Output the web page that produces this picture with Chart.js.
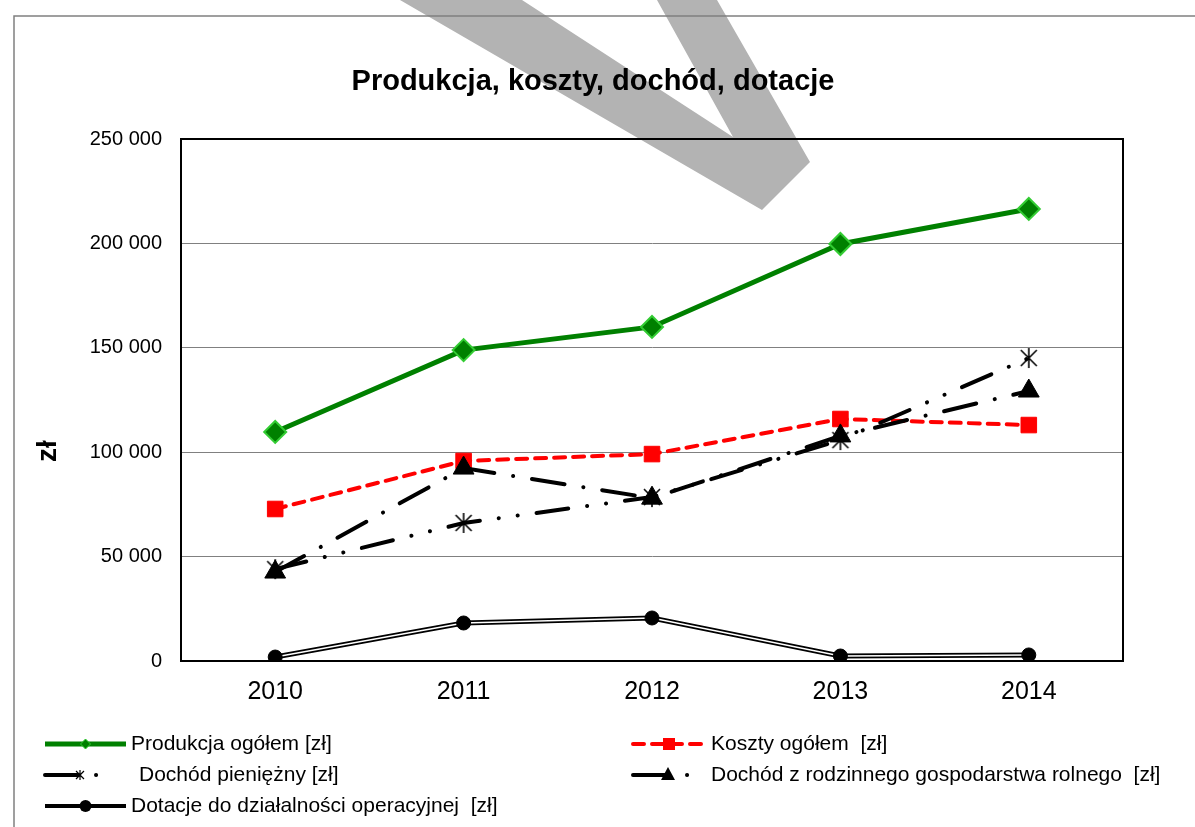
<!DOCTYPE html>
<html>
<head>
<meta charset="utf-8">
<script src="https://cdn.jsdelivr.net/npm/chart.js@4.4.0/dist/chart.umd.min.js"></script>
<style>
    html, body { margin: 0; padding: 0; background: #ffffff; }
    canvas { display: block; }
</style>
</head>
<body>
<canvas id="chart" width="1195" height="827"></canvas>
<script>
const years = ['2010', '2011', '2012', '2013', '2014'];
const produkcja = [109700, 148900, 160000, 199700, 216500];
const koszty = [72800, 95800, 99100, 115900, 113000];
const dochodPieniezny = [44000, 66100, 78500, 105800, 145100];
const dochodRodzinny = [42600, 92400, 78000, 107800, 129300];
const dotacje = [1900, 18200, 20600, 2400, 2900];
const yTicks = [0, 50000, 100000, 150000, 200000, 250000];

const chartTitle = 'Produkcja, koszty, dochód, dotacje';
const yTitle = 'zł';
const legendLabels = [
    'Produkcja ogółem [zł]',
    'Koszty ogółem  [zł]',
    'Dochód pieniężny [zł]',
    'Dochód z rodzinnego gospodarstwa rolnego  [zł]',
    'Dotacje do działalności operacyjnej  [zł]'
];

const FONT = '"Liberation Sans", Arial, sans-serif';

const formatPl = (v) => String(v).replace(/\B(?=(\d{3})+(?!\d))/g, ' ');

// asterisk marker (X + vertical bar), like the Excel "star"
const makeStar = (size, lw) => {
    const c = document.createElement('canvas');
    c.width = size; c.height = size;
    const g = c.getContext('2d');
    const m = size / 2, r = size / 2 - 1;
    g.strokeStyle = '#000';
    g.lineWidth = lw;
    g.beginPath();
    g.moveTo(m, m - r); g.lineTo(m, m + r);
    g.moveTo(m - r * 0.8, m - r * 0.8); g.lineTo(m + r * 0.8, m + r * 0.8);
    g.moveTo(m + r * 0.8, m - r * 0.8); g.lineTo(m - r * 0.8, m + r * 0.8);
    g.stroke();
    return c;
};
const starBig = makeStar(22, 1.6);
const starSmall = makeStar(12, 1.2);

// background: watermark + outer frame + titles
const backgroundPlugin = {
    id: 'background',
    beforeDraw: (chart) => {
        const ctx = chart.ctx;
        ctx.save();
        ctx.fillStyle = '#ffffff';
        ctx.fillRect(0, 0, chart.width, chart.height);

        ctx.fillStyle = '#b3b3b3';
        ctx.beginPath();
        ctx.moveTo(400, 0);
        ctx.lineTo(522, 0);
        ctx.lineTo(733, 137);
        ctx.lineTo(657, 0);
        ctx.lineTo(717, 0);
        ctx.lineTo(810, 162);
        ctx.lineTo(762, 210);
        ctx.closePath();
        ctx.fill();

        ctx.strokeStyle = '#808080';
        ctx.lineWidth = 1.5;
        ctx.beginPath();
        ctx.moveTo(14, chart.height);
        ctx.lineTo(14, 16);
        ctx.lineTo(chart.width, 16);
        ctx.stroke();

        ctx.fillStyle = '#000000';
        ctx.font = 'bold 29px ' + FONT;
        ctx.textAlign = 'center';
        ctx.textBaseline = 'middle';
        ctx.fillText(chartTitle, 593, 82);

        ctx.translate(48, 451);
        ctx.rotate(-Math.PI / 2);
        ctx.font = 'bold 28px ' + FONT;
        ctx.fillText(yTitle, 0, 0);
        ctx.restore();
    },
    beforeDatasetsDraw: (chart) => {
        const { ctx, chartArea: { top, bottom, left, right } } = chart;
        ctx.save();
        ctx.strokeStyle = '#000000';
        ctx.lineWidth = 2;
        ctx.strokeRect(left, top, right - left, bottom - top);
        ctx.restore();
    }
};

// legend in two columns, as in the original
const legendPlugin = {
    id: 'customLegend',
    afterDraw: (chart) => {
        const ctx = chart.ctx;
        const items = [
            { x: 45, y: 744, w: 81, color: '#008000', width: 5, dash: [], marker: 'diamond', text: legendLabels[0], tx: 131 },
            { x: 633, y: 744, w: 72, color: '#ff0000', width: 4, dash: [11, 8], marker: 'square', text: legendLabels[1], tx: 711 },
            { x: 45, y: 775, w: 81, color: '#000000', width: 4, dash: [33, 18, 0.1, 200], marker: 'star', text: legendLabels[2], tx: 139, mx: 80 },
            { x: 633, y: 775, w: 72, color: '#000000', width: 4, dash: [33, 21, 0.1, 200], marker: 'triangle', text: legendLabels[3], tx: 711, mx: 668 },
            { x: 45, y: 806, w: 81, color: '#000000', width: 4, dash: [], marker: 'circle', text: legendLabels[4], tx: 131 }
        ];
        ctx.save();
        items.forEach((it) => {
            ctx.strokeStyle = it.color;
            ctx.lineWidth = it.width;
            ctx.lineCap = it.dash.length ? 'round' : 'butt';
            ctx.setLineDash(it.dash);
            ctx.beginPath();
            ctx.moveTo(it.x, it.y);
            ctx.lineTo(it.x + it.w, it.y);
            ctx.stroke();
            ctx.setLineDash([]);

            const mx = it.mx || (it.x + it.w / 2);
            const my = it.y;
            ctx.fillStyle = it.color;
            ctx.beginPath();
            if (it.marker === 'diamond') {
                ctx.moveTo(mx - 5, my); ctx.lineTo(mx, my - 5); ctx.lineTo(mx + 5, my); ctx.lineTo(mx, my + 5);
                ctx.closePath();
                ctx.fill();
                ctx.strokeStyle = '#33cc33';
                ctx.lineWidth = 1;
                ctx.stroke();
            } else if (it.marker === 'square') {
                ctx.rect(mx - 6, my - 6, 12, 12);
                ctx.fill();
            } else if (it.marker === 'triangle') {
                ctx.moveTo(mx, my - 8); ctx.lineTo(mx + 7, my + 5); ctx.lineTo(mx - 7, my + 5);
                ctx.closePath();
                ctx.fill();
            } else if (it.marker === 'circle') {
                ctx.arc(mx, my, 6, 0, Math.PI * 2);
                ctx.fill();
            } else if (it.marker === 'star') {
                ctx.drawImage(starSmall, mx - 6, my - 6);
            }

            ctx.fillStyle = '#000000';
            ctx.font = '21px ' + FONT;
            ctx.textAlign = 'left';
            ctx.textBaseline = 'middle';
            ctx.fillText(it.text, it.tx, it.y);
        });
        ctx.restore();
    }
};

const ctx = document.getElementById('chart').getContext('2d');

new Chart(ctx, {
    type: 'line',
    plugins: [backgroundPlugin, legendPlugin],
    data: {
        labels: years,
        datasets: [
            {
                label: legendLabels[0],
                data: produkcja,
                borderColor: '#008000',
                borderWidth: 5,
                pointStyle: 'rectRot',
                pointRadius: 11,
                pointBackgroundColor: '#008000',
                pointBorderColor: '#33cc33',
                pointBorderWidth: 2
            },
            {
                label: legendLabels[3],
                data: dochodRodzinny,
                borderColor: '#000000',
                borderWidth: 4,
                borderDash: [33, 19, 0.1, 19],
                borderCapStyle: 'round',
                pointStyle: 'triangle',
                pointRadius: 12,
                pointBackgroundColor: '#000000',
                pointBorderColor: '#000000',
                pointBorderWidth: 1
            },
            {
                label: legendLabels[2],
                data: dochodPieniezny,
                borderColor: '#000000',
                borderWidth: 4,
                borderDash: [32, 19, 0.1, 19, 0.1, 19],
                borderCapStyle: 'round',
                pointStyle: starBig,
                pointRadius: 11
            },
            {
                label: legendLabels[1],
                data: koszty,
                borderColor: '#ff0000',
                borderWidth: 4,
                borderDash: [11, 8],
                borderCapStyle: 'round',
                pointStyle: 'rect',
                pointRadius: 11,
                pointBackgroundColor: '#ff0000',
                pointBorderColor: '#ff0000',
                pointBorderWidth: 1
            },
            {
                label: 'dotacje-points',
                data: dotacje,
                showLine: false,
                pointStyle: 'circle',
                pointRadius: 7,
                pointBackgroundColor: '#000000',
                pointBorderColor: '#000000',
                pointBorderWidth: 1
            },
            {
                label: 'dotacje-inner',
                data: dotacje,
                borderColor: '#ffffff',
                borderWidth: 1.5,
                pointRadius: 0
            },
            {
                label: legendLabels[4],
                data: dotacje,
                borderColor: '#000000',
                borderWidth: 5,
                pointRadius: 0
            }
        ]
    },
    options: {
        responsive: false,
        animation: false,
        events: [],
        layout: {
            padding: { top: 139, right: 72, left: 0, bottom: 0 }
        },
        elements: {
            line: { tension: 0, fill: false }
        },
        plugins: {
            legend: { display: false },
            title: { display: false },
            tooltip: { enabled: false }
        },
        scales: {
            x: {
                offset: true,
                grid: { display: false, drawTicks: false },
                border: { display: true, color: '#000000', width: 2 },
                ticks: {
                    color: '#000000',
                    padding: 16,
                    font: { family: FONT, size: 25 }
                },
                afterFit: (scale) => { scale.height = 166; }
            },
            y: {
                min: 0,
                max: 250000,
                afterBuildTicks: (scale) => {
                    scale.ticks = yTicks.map((v) => ({ value: v }));
                },
                grid: { color: '#808080', lineWidth: 1, drawTicks: false },
                border: { display: true, color: '#000000', width: 2 },
                ticks: {
                    color: '#000000',
                    padding: 19,
                    font: { family: FONT, size: 20 },
                    callback: (value) => formatPl(value)
                },
                afterFit: (scale) => { scale.width = 181; }
            }
        }
    }
});
</script>
</body>
</html>
